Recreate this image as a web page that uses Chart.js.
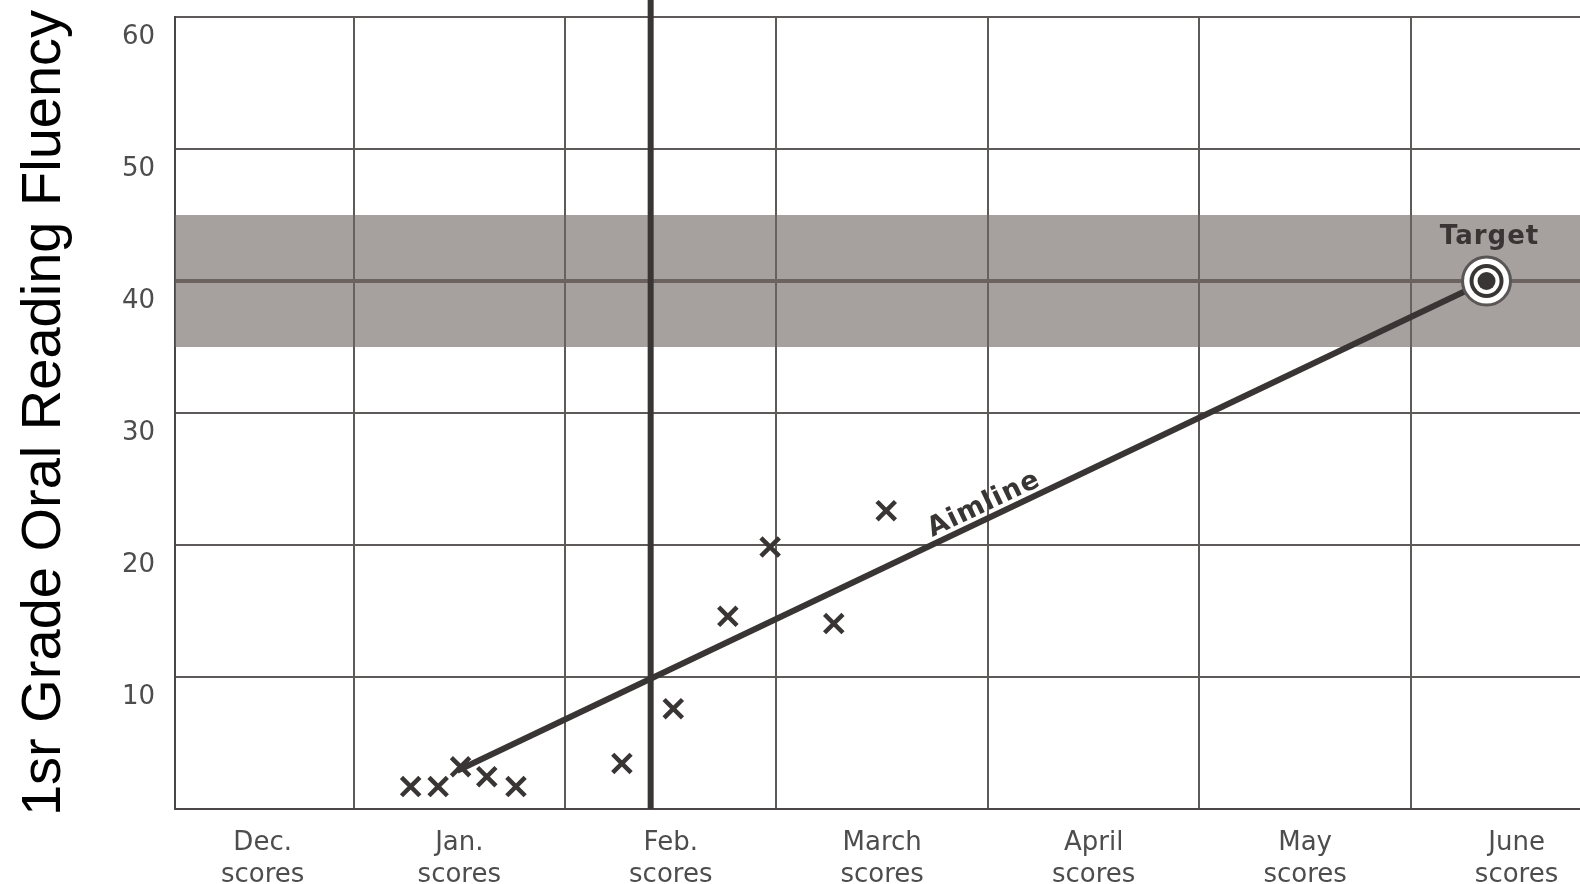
<!DOCTYPE html>
<html>
<head>
<meta charset="utf-8">
<script src="https://cdn.jsdelivr.net/npm/chart.js@4.4.1/dist/chart.umd.min.js"></script>
<style>
  html, body { margin: 0; padding: 0; background: #fff; overflow: hidden; }
  canvas { display: block; }
</style>
</head>
<body>
<canvas id="myChart" width="1580" height="884"></canvas>
<script>
// 1 DATA
const months = ['Dec.', 'Jan.', 'Feb.', 'March', 'April', 'May', 'June'];
const monthPos = [0.57, 1.5, 2.5, 3.5, 4.5, 5.5, 6.5];
const columnEdges = [1, 2, 3, 4, 5, 6];
const yTicks = [10, 20, 30, 40, 50, 60];
const scoreX = [1.27, 1.40, 1.506, 1.63, 1.768, 2.269, 2.512, 2.77, 2.97, 3.271, 3.519];
const scoreY = [1.7, 1.7, 3.2, 2.45, 1.7, 3.45, 7.6, 14.6, 19.85, 14.05, 22.6];
const aimX = [1.49, 6.358];
const aimY = [2.9, 40];
const targetX = 6.358;
const targetY = 40;
const bandLow = 35;
const bandHigh = 45;
const phaseX = 2.405;
const phaseY = [0, 61.3];

const xMin = 0.1555, xMax = 6.80;
const ink = '#3a3535';

// 2 TEXT LABELS PLUGIN
const labelsPlugin = {
    id: 'labels',
    afterDatasetsDraw(chart){
        const {ctx, scales:{x, y}} = chart;
        ctx.save();
        ctx.fillStyle = ink;
        ctx.textAlign = 'center';
        ctx.textBaseline = 'middle';
        ctx.letterSpacing = '1px';
        // Target
        ctx.font = 'bold 26px "DejaVu Sans"';
        ctx.fillText('Target', x.getPixelForValue(targetX) + 3, y.getPixelForValue(43.3));
        // Aimline, along the line
        const x0 = x.getPixelForValue(aimX[0]), y0 = y.getPixelForValue(aimY[0]);
        const x1 = x.getPixelForValue(aimX[1]), y1 = y.getPixelForValue(aimY[1]);
        const ang = Math.atan2(y1 - y0, x1 - x0);
        const t = (4.01 - aimX[0]) / (aimX[1] - aimX[0]);
        const px = x0 + (x1 - x0) * t, py = y0 + (y1 - y0) * t;
        ctx.translate(px + Math.sin(ang) * 14, py - Math.cos(ang) * 14);
        ctx.rotate(ang);
        ctx.font = 'bold 27px "DejaVu Sans"';
        ctx.fillText('Aimline', 0, 0);
        ctx.restore();
    }
};

// 3 CHART
const ctx = document.querySelector('#myChart').getContext('2d');
const pts = (xs, ys) => xs.map((v, i) => ({x: v, y: ys[i]}));

const myChart = new Chart(ctx, {
    type: 'scatter',
    data: {
        datasets: [
            // goal band
            {type: 'line', data: [{x: xMin, y: bandHigh}, {x: xMax, y: bandHigh}], pointRadius: 0,
             borderWidth: 0, borderColor: 'rgba(0,0,0,0)', fill: false, order: 20},
            {type: 'line', data: [{x: xMin, y: bandLow}, {x: xMax, y: bandLow}], pointRadius: 0,
             borderWidth: 0, borderColor: 'rgba(0,0,0,0)', backgroundColor: 'rgba(112,102,99,0.62)',
             fill: '-1', order: 19},
            // phase line
            {type: 'line', data: [{x: phaseX, y: phaseY[0]}, {x: phaseX, y: phaseY[1]}], pointRadius: 0,
             borderColor: ink, borderWidth: 6, clip: false, order: 10},
            // aimline
            {type: 'line', data: pts(aimX, aimY), pointRadius: 0, borderColor: ink, borderWidth: 6, order: 5},
            // scores
            {data: pts(scoreX, scoreY), pointStyle: 'crossRot', pointRadius: 13, borderWidth: 4.5,
             borderColor: ink, backgroundColor: ink, order: 4},
            // target bullseye
            {data: [{x: targetX, y: targetY}], pointRadius: 24, borderWidth: 3,
             borderColor: '#5a5656', backgroundColor: '#fff', order: 3},
            {data: [{x: targetX, y: targetY}], pointRadius: 17, borderWidth: 0,
             backgroundColor: ink, order: 2},
            {data: [{x: targetX, y: targetY}], pointRadius: 13, borderWidth: 0,
             backgroundColor: '#fff', order: 1},
            {data: [{x: targetX, y: targetY}], pointRadius: 9, borderWidth: 0,
             backgroundColor: ink, order: 0}
        ]
    },
    options: {
        responsive: false,
        animation: false,
        events: [],
        layout: {autoPadding: false, padding: {top: 17, left: 0, right: 0, bottom: 0}},
        plugins: {
            legend: {display: false},
            tooltip: {enabled: false}
        },
        scales: {
            x: {
                type: 'linear',
                min: xMin,
                max: xMax,
                afterBuildTicks: s => {
                    s.ticks = columnEdges.concat(monthPos).sort((a, b) => a - b).map(v => ({value: v}));
                },
                afterFit: s => { s.height = 75; s.paddingLeft = 0; s.paddingRight = 0; },
                grid: {
                    color: c => (c.tick && Number.isInteger(c.tick.value)) ? '#5e5a5a' : 'rgba(0,0,0,0)',
                    lineWidth: 2,
                    drawTicks: false
                },
                border: {display: true, color: '#4a4646', width: 2},
                ticks: {
                    autoSkip: false,
                    maxRotation: 0,
                    padding: 19,
                    color: '#4d4d4d',
                    font: {family: '"DejaVu Sans"', size: 26, lineHeight: 1.2},
                    callback: v => {
                        const i = monthPos.indexOf(v);
                        return i === -1 ? '' : [months[i], 'scores'];
                    }
                }
            },
            y: {
                type: 'linear',
                min: 0,
                max: 60,
                afterBuildTicks: s => {
                    s.ticks = [0].concat(yTicks).map(v => ({value: v}));
                },
                afterFit: s => { s.width = 175; s.paddingTop = 0; s.paddingBottom = 0; },
                grid: {
                    color: c => (c.tick && c.tick.value === 40) ? '#676060' : '#5e5a5a',
                    lineWidth: c => (c.tick && c.tick.value === 40) ? 4 : 2,
                    drawTicks: false
                },
                border: {display: true, color: '#4a4646', width: 2},
                ticks: {
                    padding: 20,
                    labelOffset: 20,
                    color: '#4d4d4d',
                    font: {family: '"DejaVu Sans"', size: 26},
                    callback: v => v === 0 ? '' : String(v)
                },
                title: {
                    display: true,
                    text: '1sr Grade Oral Reading Fluency',
                    color: '#000',
                    font: {family: '"Liberation Sans", Arial', size: 56, lineHeight: 1},
                    padding: {top: 17, bottom: 0}
                }
            }
        }
    },
    plugins: [labelsPlugin]
});
</script>
</body>
</html>
